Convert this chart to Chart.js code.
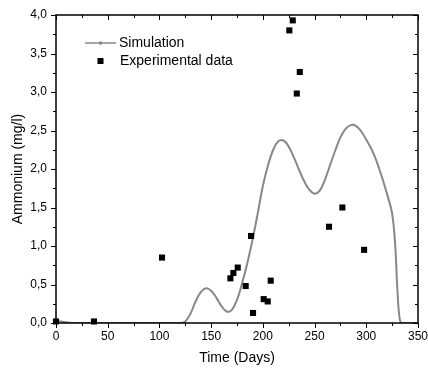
<!DOCTYPE html>
<html>
<head>
<meta charset="utf-8">
<script src="https://cdn.jsdelivr.net/npm/chart.js@4/dist/chart.umd.min.js"></script>
<style>
  html, body { margin: 0; padding: 0; background: #fff; }
  #wrap { width: 428px; height: 369px; }
</style>
</head>
<body>
<div id="wrap"><canvas id="myChart" width="428" height="369"></canvas></div>
<script>
// simulation curve (days, mg/l)
const simDays = [0, 5, 10, 15, 120, 125, 130, 135, 140, 145, 150, 155, 160, 165, 170, 175, 180, 185, 190, 195,
  200, 205, 210, 215, 220, 225, 230, 235, 240, 245, 250, 255, 260, 265, 270, 275, 280, 285, 290, 295,
  300, 305, 310, 315, 320, 325, 328, 330, 332, 334, 340, 350];
const simValues = [0.02, 0.02, 0.01, 0, 0, 0.02, 0.12, 0.28, 0.40, 0.45, 0.42, 0.33, 0.22, 0.15, 0.17, 0.30, 0.52, 0.78, 1.08, 1.42,
  1.78, 2.05, 2.25, 2.36, 2.37, 2.29, 2.15, 1.99, 1.84, 1.73, 1.68, 1.72, 1.86, 2.05, 2.24, 2.41, 2.52, 2.57, 2.56, 2.49,
  2.38, 2.26, 2.10, 1.90, 1.68, 1.42, 1.00, 0.45, 0.08, 0, 0, 0];

// experimental measurements
const expDays = [0, 36.7, 102.5, 168.6, 171.5, 175.7, 183.4, 188.6, 190.5, 200.8, 204.7, 207.6, 225.6, 228.9, 232.8, 235.7, 264, 276.9, 297.9];
const expValues = [0.02, 0.02, 0.85, 0.58, 0.65, 0.72, 0.48, 1.13, 0.13, 0.31, 0.28, 0.55, 3.80, 3.93, 2.98, 3.26, 1.25, 1.50, 0.95];

// tick labels
const xTickLabels = ['0', '50', '100', '150', '200', '250', '300', '350'];
const yTickLabels = ['0,0', '0,5', '1,0', '1,5', '2,0', '2,5', '3,0', '3,5', '4,0'];

const simPoints = simDays.map((d, i) => ({ x: d, y: simValues[i] }));
const expPoints = expDays.map((d, i) => ({ x: d, y: expValues[i] }));

const FONT = 'Arial, "Liberation Sans", sans-serif';

// frame on all four sides, ticks out on left/bottom, in on top/right
const frameTicks = {
  id: 'frameTicks',
  afterDraw(chart) {
    const ctx = chart.ctx;
    const a = chart.chartArea;
    const xs = chart.scales.x, ys = chart.scales.y;
    ctx.save();
    ctx.strokeStyle = '#000';
    ctx.lineWidth = 1.5;
    ctx.strokeRect(a.left, a.top, a.right - a.left, a.bottom - a.top);
    ctx.lineWidth = 1;
    ctx.beginPath();
    for (let v = 0; v <= 350; v += 25) {
      const px = Math.round(xs.getPixelForValue(v)) + 0.5;
      const len = v % 50 === 0 ? 5 : 3;
      ctx.moveTo(px, a.bottom); ctx.lineTo(px, a.bottom + len);
      ctx.moveTo(px, a.top); ctx.lineTo(px, a.top + len);
    }
    for (let v = 0; v <= 4.001; v += 0.25) {
      const py = Math.round(ys.getPixelForValue(v)) + 0.5;
      const major = Math.abs(v * 2 - Math.round(v * 2)) < 1e-6;
      const len = major ? 5 : 3;
      ctx.moveTo(a.left, py); ctx.lineTo(a.left - len, py);
      ctx.moveTo(a.right, py); ctx.lineTo(a.right - len, py);
    }
    ctx.stroke();
    ctx.restore();
  }
};

// legend inside the plot, top left
const insideLegend = {
  id: 'insideLegend',
  afterDraw(chart) {
    const ctx = chart.ctx;
    const ds = chart.data.datasets;
    ctx.save();
    ctx.font = '14px ' + FONT;
    ctx.textBaseline = 'middle';
    ctx.fillStyle = '#000';
    // simulation entry
    ctx.strokeStyle = ds[0].borderColor;
    ctx.lineWidth = 1.5;
    ctx.beginPath();
    ctx.moveTo(85, 43); ctx.lineTo(116, 43);
    ctx.stroke();
    ctx.fillStyle = ds[0].borderColor;
    ctx.fillRect(99, 41.5, 3, 3);
    ctx.fillStyle = '#000';
    ctx.fillText(ds[0].label, 119, 43);
    // experimental entry
    ctx.fillRect(97.5, 58, 6, 6);
    ctx.fillText(ds[1].label, 120, 61);
    ctx.restore();
  }
};

const ctx = document.getElementById('myChart').getContext('2d');
new Chart(ctx, {
  type: 'scatter',
  data: {
    datasets: [
      {
        label: 'Simulation',
        data: simPoints,
        showLine: true,
        borderColor: '#888888',
        borderWidth: 2,
        pointRadius: 0,
        tension: 0.4,
        order: 2
      },
      {
        label: 'Experimental data',
        data: expPoints,
        pointStyle: 'rect',
        pointRadius: 4.3,
        backgroundColor: '#000',
        borderColor: '#000',
        borderWidth: 0,
        clip: false,
        order: 1
      }
    ]
  },
  options: {
    responsive: false,
    animation: false,
    layout: { padding: { top: 15, right: 10, left: 0, bottom: 0 } },
    plugins: {
      legend: { display: false },
      tooltip: { enabled: false }
    },
    scales: {
      x: {
        type: 'linear',
        min: 0, max: 350,
        afterBuildTicks: s => { s.ticks = xTickLabels.map(t => ({ value: Number(t) })); },
        ticks: {
          callback: (v, i) => xTickLabels[i],
          font: { size: 12, family: FONT },
          color: '#000',
          padding: 6,
          maxRotation: 0
        },
        grid: { display: false, drawTicks: false },
        border: { display: false },
        title: {
          display: true,
          text: 'Time (Days)',
          font: { size: 14, family: FONT },
          color: '#000',
          padding: { top: 5, bottom: 2 }
        },
        afterFit: s => { s.height = 46; s.paddingLeft = 0; s.paddingRight = 0; }
      },
      y: {
        type: 'linear',
        min: 0, max: 4,
        afterBuildTicks: s => { s.ticks = yTickLabels.map(t => ({ value: Number(t.replace(',', '.')) })); },
        ticks: {
          callback: (v, i) => yTickLabels[i],
          font: { size: 12, family: FONT },
          color: '#000',
          padding: 9
        },
        grid: { display: false, drawTicks: false },
        border: { display: false },
        title: {
          display: true,
          text: 'Ammonium (mg/l)',
          font: { size: 14, family: FONT },
          color: '#000',
          padding: { top: 10, bottom: 4 }
        },
        afterFit: s => { s.width = 56; s.paddingTop = 0; s.paddingBottom = 0; }
      }
    }
  },
  plugins: [frameTicks, insideLegend]
});
</script>
</body>
</html>
